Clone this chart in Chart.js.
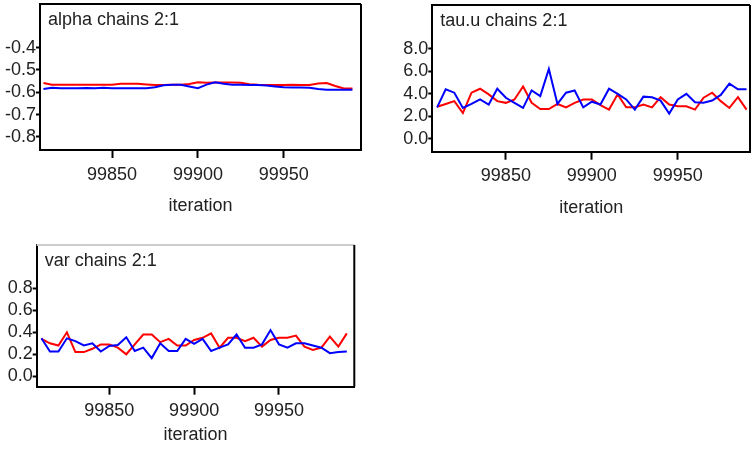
<!DOCTYPE html>
<html lang="en">
<head>
<meta charset="UTF-8">
<title>MCMC chains 2:1</title>
<script src="https://cdn.jsdelivr.net/npm/chart.js"></script>
<style>
  html, body { margin: 0; padding: 0; background: #fff; }
  #wrap { position: relative; width: 751px; height: 455px; overflow: hidden; }
  canvas { position: absolute; }
</style>
</head>
<body>
<div id="wrap">
  <canvas id="alphaChart" width="375" height="220" style="left:0;top:0"></canvas>
  <canvas id="tauChart" width="371" height="220" style="left:380px;top:0"></canvas>
  <canvas id="varChart" width="375" height="230" style="left:0;top:225px"></canvas>
</div>
<script>
// thinned iterations shown in each trace
const iterations = [99810, 99815, 99820, 99825, 99830, 99835, 99840, 99845, 99850, 99855,
  99860, 99865, 99870, 99875, 99880, 99885, 99890, 99895, 99900, 99905, 99910, 99915,
  99920, 99925, 99930, 99935, 99940, 99945, 99950, 99955, 99960, 99965, 99970, 99975,
  99980, 99985, 99990];
const iterTicks = [99850, 99900, 99950];

const alphaRed = [-0.559, -0.566, -0.567, -0.567, -0.567, -0.567, -0.567, -0.567, -0.567, -0.562,
  -0.562, -0.562, -0.565, -0.568, -0.568, -0.567, -0.566, -0.563, -0.555, -0.557, -0.556, -0.556,
  -0.556, -0.558, -0.564, -0.567, -0.568, -0.568, -0.568, -0.566, -0.568, -0.568, -0.561, -0.559,
  -0.572, -0.583, -0.583];
const alphaBlue = [-0.586, -0.580, -0.582, -0.582, -0.582, -0.581, -0.582, -0.580, -0.582, -0.582,
  -0.582, -0.582, -0.582, -0.578, -0.569, -0.567, -0.567, -0.574, -0.582, -0.566, -0.555, -0.562,
  -0.566, -0.567, -0.568, -0.568, -0.570, -0.574, -0.578, -0.579, -0.579, -0.580, -0.586, -0.589,
  -0.589, -0.589, -0.589];
const alphaTicks = [-0.8, -0.7, -0.6, -0.5, -0.4];

const tauRed = [2.85, 3.1, 3.35, 2.3, 4.1, 4.45, 3.95, 3.35, 3.2, 3.5, 4.65, 3.2, 2.65, 2.65,
  3.1, 2.8, 3.2, 3.5, 3.5, 3.0, 2.6, 3.95, 2.8, 2.8, 3.05, 2.8, 3.7, 3.05, 2.9, 2.9, 2.6, 3.65,
  4.1, 3.35, 2.75, 3.7, 2.6];
const tauBlue = [2.8, 4.4, 4.1, 2.75, 3.1, 3.5, 3.05, 4.45, 3.65, 3.2, 2.75, 4.3, 3.8, 6.2,
  3.1, 4.1, 4.3, 2.8, 3.3, 3.05, 4.45, 4.0, 3.5, 2.6, 3.75, 3.7, 3.4, 2.25, 3.5, 4.0, 3.25, 3.2,
  3.4, 3.9, 4.9, 4.4, 4.4];
const tauTicks = [0, 2, 4, 6, 8];

const varRed = [0.34, 0.30, 0.28, 0.40, 0.22, 0.22, 0.25, 0.29, 0.29, 0.26, 0.20, 0.29, 0.38,
  0.38, 0.31, 0.34, 0.28, 0.28, 0.33, 0.35, 0.39, 0.26, 0.35, 0.35, 0.32, 0.35, 0.27, 0.33, 0.35,
  0.35, 0.37, 0.27, 0.24, 0.26, 0.36, 0.27, 0.39];
const varBlue = [0.345, 0.225, 0.225, 0.345, 0.32, 0.28, 0.30, 0.225, 0.275, 0.285, 0.355, 0.23,
  0.26, 0.165, 0.30, 0.23, 0.23, 0.34, 0.295, 0.34, 0.23, 0.26, 0.29, 0.38, 0.26, 0.26, 0.29,
  0.42, 0.29, 0.26, 0.30, 0.30, 0.28, 0.26, 0.21, 0.22, 0.225];
const varTicks = [0, 0.2, 0.4, 0.6, 0.8];

Chart.defaults.font.family = '"Liberation Sans", Arial, sans-serif';
Chart.defaults.font.size = 18;
Chart.defaults.color = '#222';

// box top/right edges plus the title written inside the plot
const panelFrame = {
  id: 'panelFrame',
  afterDraw(chart, args, opts) {
    const { ctx, chartArea: a } = chart;
    ctx.save();
    ctx.lineWidth = 2;
    ctx.strokeStyle = opts.topColor;
    ctx.beginPath();
    ctx.moveTo(a.left, a.top);
    ctx.lineTo(a.right, a.top);
    ctx.stroke();
    ctx.strokeStyle = '#000';
    ctx.beginPath();
    ctx.moveTo(a.right, a.top);
    ctx.lineTo(a.right, a.bottom);
    ctx.stroke();
    ctx.font = '18px "Liberation Sans", Arial, sans-serif';
    ctx.fillStyle = '#222';
    ctx.textBaseline = 'alphabetic';
    ctx.fillText(opts.text, a.left + 8, a.top + 21);
    ctx.restore();
  }
};

function points(values) {
  return iterations.map((x, i) => ({ x: x, y: values[i] }));
}

function makePanel(id, p) {
  const canvas = document.getElementById(id);
  const h = canvas.height;
  new Chart(canvas.getContext('2d'), {
    type: 'line',
    data: {
      datasets: [
        { data: points(p.blue), borderColor: '#0000ff', borderWidth: 2, pointRadius: 0, tension: 0 },
        { data: points(p.red), borderColor: '#ff0000', borderWidth: 2, pointRadius: 0, tension: 0 }
      ]
    },
    options: {
      responsive: false,
      animation: false,
      devicePixelRatio: 1,
      layout: { padding: { left: 0, top: p.area.top, right: canvas.width - p.area.right, bottom: 0 } },
      plugins: {
        legend: { display: false },
        tooltip: { enabled: false },
        panelFrame: { text: p.title, topColor: p.topColor }
      },
      scales: {
        x: {
          type: 'linear',
          min: p.xRange[0],
          max: p.xRange[1],
          afterBuildTicks: s => { s.ticks = iterTicks.map(v => ({ value: v })); },
          afterFit: s => {
            s.height = h - p.area.bottom;
            s.paddingLeft = 0; s.paddingRight = 0;
          },
          grid: { drawOnChartArea: false, tickLength: 8, tickWidth: 2, tickColor: '#000' },
          border: { display: true, color: '#000', width: 2 },
          ticks: { padding: 6, maxRotation: 0, callback: v => String(v) },
          title: { display: true, text: 'iteration', padding: { top: 0, bottom: p.iterPad } }
        },
        y: {
          min: p.yRange[0],
          max: p.yRange[1],
          afterBuildTicks: s => { s.ticks = p.yTicks.map(v => ({ value: v })); },
          afterFit: s => {
            s.width = p.area.left;
            s.paddingTop = 0; s.paddingBottom = 0;
          },
          grid: { drawOnChartArea: false, tickLength: 4, tickWidth: 2, tickColor: '#000' },
          border: { display: true, color: '#000', width: 2 },
          ticks: { padding: 0, callback: v => Number(v).toFixed(1) }
        }
      }
    },
    plugins: [panelFrame]
  });
}

makePanel('alphaChart', {
  title: 'alpha chains 2:1', topColor: '#000',
  area: { left: 40, top: 4, right: 361, bottom: 150 },
  xRange: [99808, 99995], yRange: [-0.859, -0.2045], yTicks: alphaTicks,
  red: alphaRed, blue: alphaBlue, iterPad: 3
});
makePanel('tauChart', {
  title: 'tau.u chains 2:1', topColor: '#000',
  area: { left: 52.3, top: 5, right: 370, bottom: 151.7 },
  xRange: [99807.2, 99992], yRange: [-1.13, 11.87], yTicks: tauTicks,
  red: tauRed, blue: tauBlue, iterPad: 1
});
makePanel('varChart', {
  title: 'var chains 2:1', topColor: '#ccc',
  area: { left: 36.7, top: 20, right: 354.3, bottom: 161.7 },
  xRange: [99807.2, 99994.4], yRange: [-0.095, 1.194], yTicks: varTicks,
  red: varRed, blue: varBlue, iterPad: 9
});
</script>
</body>
</html>
